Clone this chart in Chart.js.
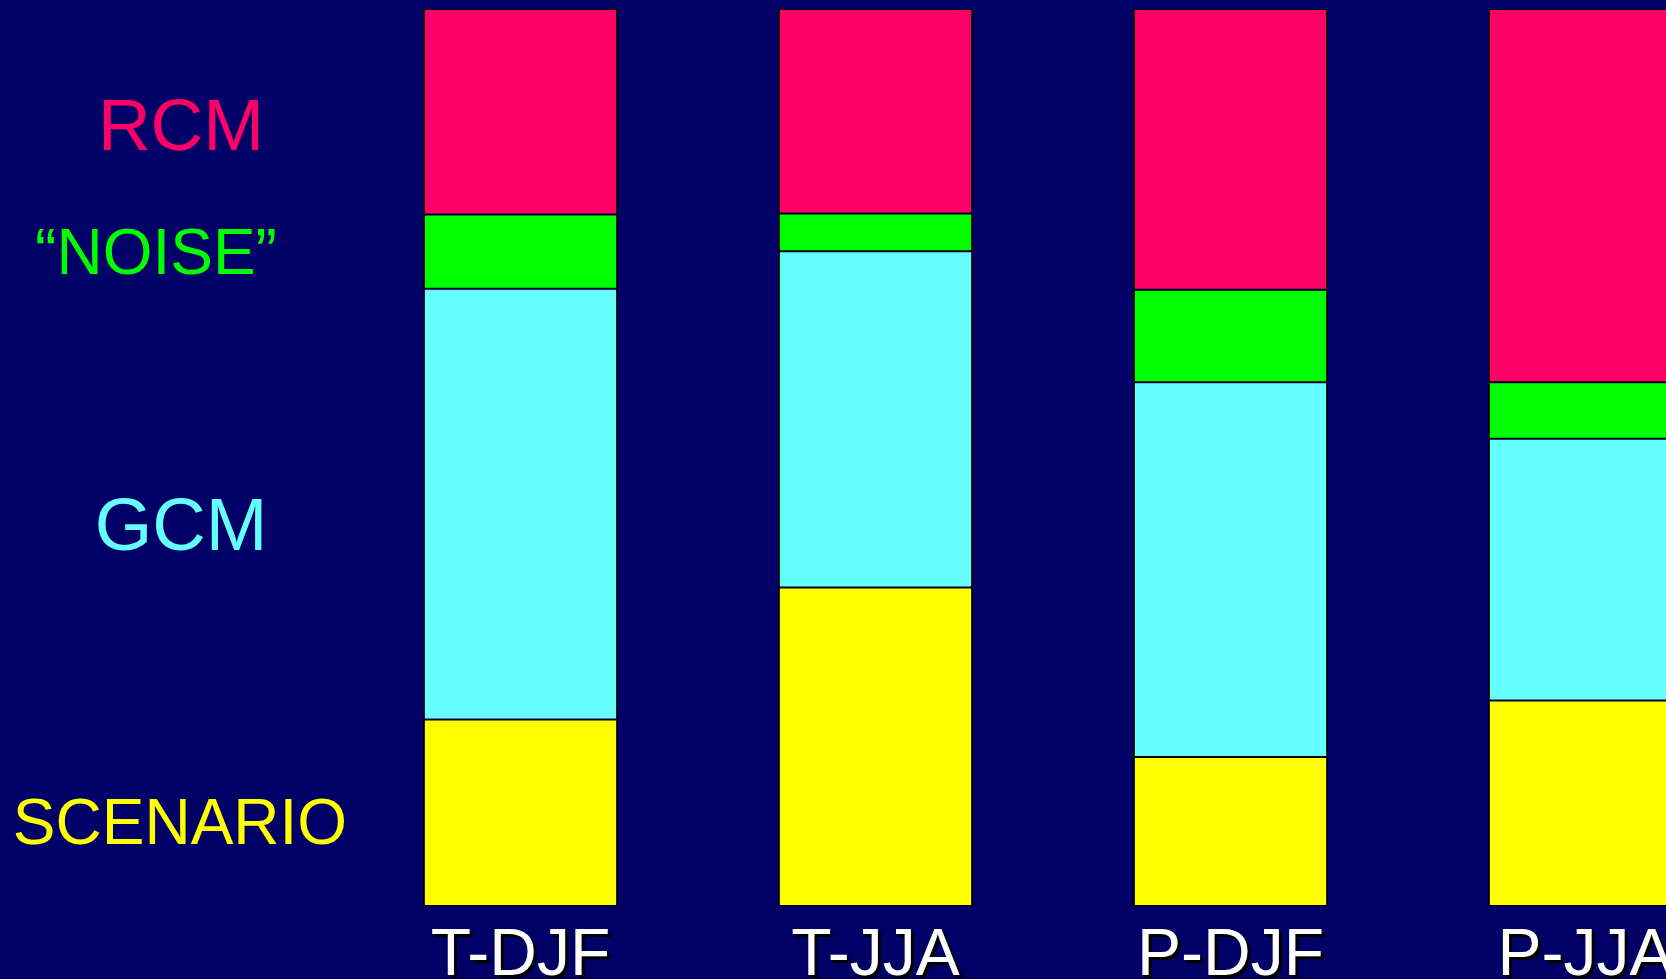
<!DOCTYPE html>
<html>
<head>
<meta charset="utf-8">
<script src="https://cdn.jsdelivr.net/npm/chart.js@4"></script>
<style>
  html, body { margin: 0; padding: 0; background: #000066; overflow: hidden; }
  #wrap { width: 1800px; height: 979px; }
</style>
</head>
<body>
<div id="wrap"><canvas id="myChart" width="1800" height="979"></canvas></div>
<script>
// share of each source of uncertainty (%)
const categories = ["T-DJF", "T-JJA", "P-DJF", "P-JJA"]
const scenario = [20.8, 35.5, 16.6, 22.9]
const gcm      = [48.0, 37.5, 41.8, 29.2]
const noise    = [8.3, 4.2, 10.3, 6.3]
const rcm      = [22.9, 22.8, 31.3, 41.6]

const seriesNames = ["SCENARIO", "GCM", "\u201CNOISE\u201D", "RCM"]
const seriesColors = ["#ffff00", "#66ffff", "#00ff00", "#ff0066"]

// where the side labels sit (x centre, baseline, font size)
const sideLabels = [
    { i: 3, x: 181, y: 150, size: 73 },
    { i: 2, x: 156, y: 274, size: 64 },
    { i: 1, x: 181, y: 550, size: 74 },
    { i: 0, x: 180, y: 844, size: 64 }
]

const FONT = "'Liberation Sans', Arial, sans-serif"

const sideLabelPlugin = {
    id: 'sideLabels',
    beforeDraw(chart) {
        const ctx = chart.ctx
        ctx.save()
        ctx.textAlign = 'center'
        ctx.textBaseline = 'alphabetic'
        sideLabels.forEach(l => {
            ctx.font = l.size + 'px ' + FONT
            ctx.fillStyle = seriesColors[l.i]
            ctx.fillText(seriesNames[l.i], l.x, l.y)
        })
        ctx.restore()
        // drop shadow for the category labels
        ctx.shadowColor = '#000000'
        ctx.shadowOffsetX = 3
        ctx.shadowOffsetY = 3
        ctx.shadowBlur = 0
    },
    beforeDatasetsDraw(chart) {
        const ctx = chart.ctx
        ctx.shadowColor = 'rgba(0,0,0,0)'
        ctx.shadowOffsetX = 0
        ctx.shadowOffsetY = 0
    }
}

window.onload = () => {
    const ctx = document.getElementById('myChart')
    const values = [scenario, gcm, noise, rcm]

    const data = {
        labels: categories,
        datasets: values.map((v, i) => ({
            label: seriesNames[i],
            data: v,
            backgroundColor: seriesColors[i],
            borderColor: '#000000',
            borderWidth: { top: 1, bottom: 1, left: 2, right: 2 },
            borderSkipped: false,
            barPercentage: 0.55,
            categoryPercentage: 1
        }))
    }

    const config = {
        type: 'bar',
        data: data,
        plugins: [sideLabelPlugin],
        options: {
            responsive: false,
            animation: false,
            layout: { padding: { left: 343, right: 37, top: 9, bottom: 0 } },
            plugins: { legend: { display: false }, tooltip: { enabled: false } },
            scales: {
                x: {
                    stacked: true,
                    grid: { display: false, drawTicks: false },
                    border: { display: false },
                    afterFit: (scale) => { scale.height = 73 },
                    ticks: {
                        color: '#ffffff',
                        padding: 18,
                        font: { family: FONT, size: 66, lineHeight: 1 }
                    }
                },
                y: {
                    stacked: true,
                    display: false,
                    min: 0,
                    max: 100
                }
            }
        }
    }

    new Chart(ctx, config)
}
</script>
</body>
</html>
